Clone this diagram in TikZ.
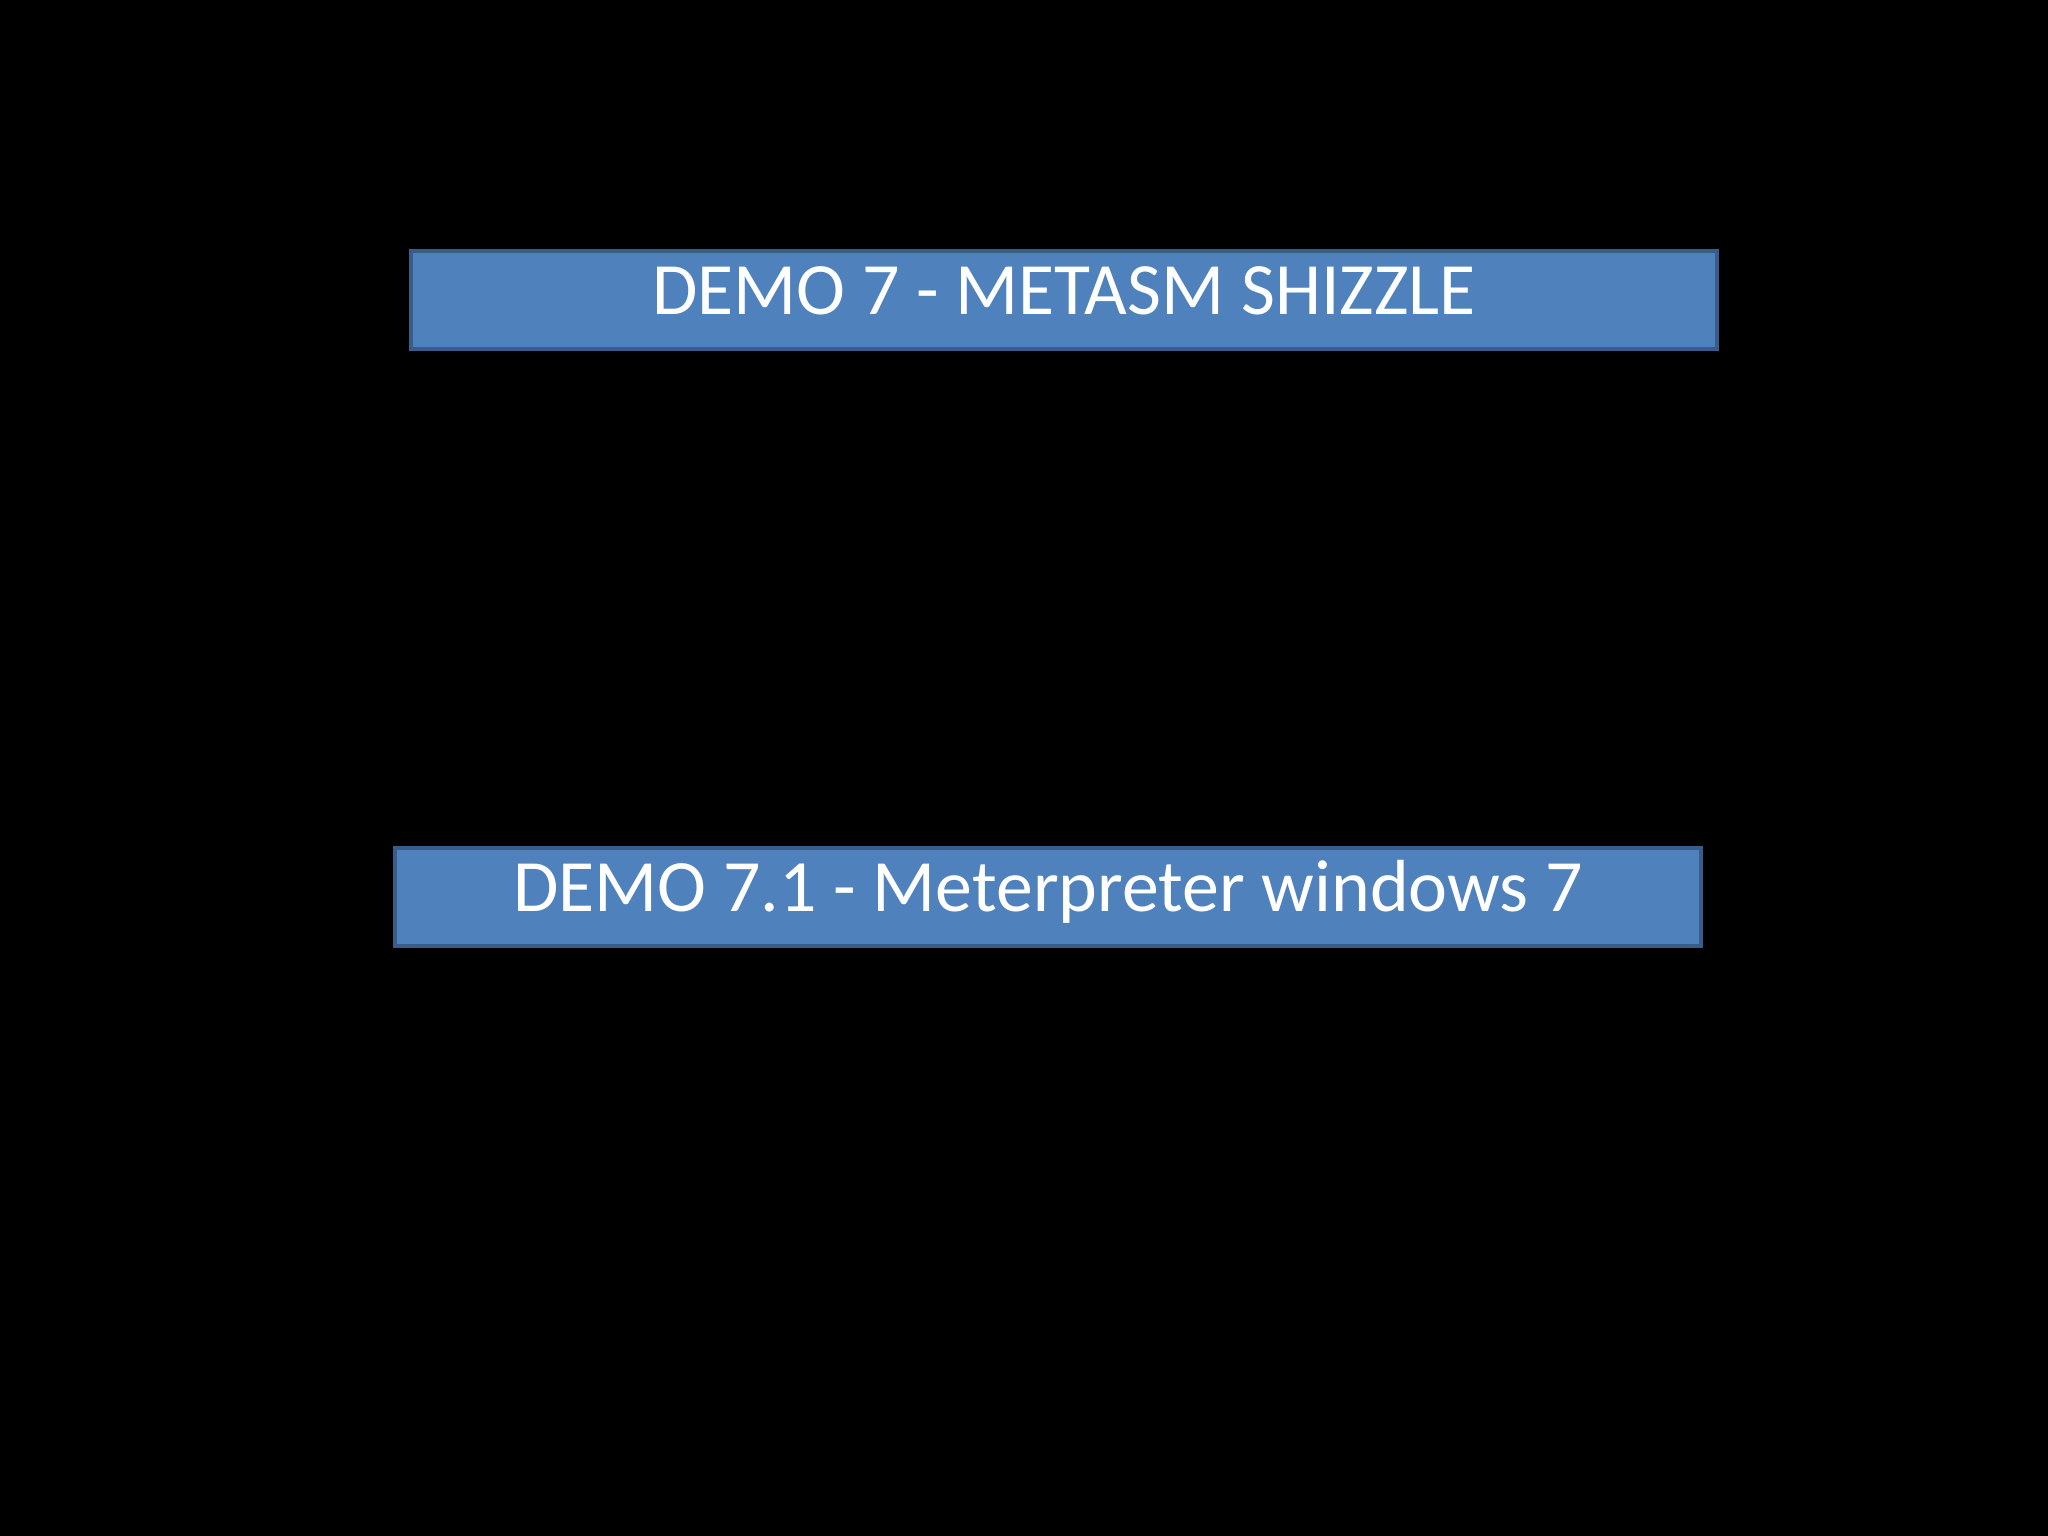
\documentclass[tikz,border=0pt]{standalone}
\usepackage{fontspec}
\setmainfont{Carlito}
\usepackage{tikz}
\definecolor{bg}{HTML}{000000}
\definecolor{boxfill}{HTML}{4F81BD}
\definecolor{boxline}{HTML}{385D8A}
\definecolor{text}{HTML}{FFFFFF}
\tikzset{
  demo/.style={draw=boxline, fill=boxfill, line width=1.4pt, minimum width=13.06cm,
    minimum height=0.98cm, inner sep=0pt, text=text, text height=0.48cm, text depth=0.18cm,
    font=\fontsize{21pt}{24pt}\selectfont},
}
\begin{document}
\begin{tikzpicture}
  \fill[bg] (0,0) rectangle (20.48,15.36);
  \useasboundingbox (0,0) rectangle (20.48,15.36);
  \node[demo] (demoA) at (10.64,12.36) {DEMO 7 - METASM SHIZZLE};
  \node[demo] (demoB) at (10.48,6.39) {DEMO 7.1 - Meterpreter windows 7};
\end{tikzpicture}
\end{document}
